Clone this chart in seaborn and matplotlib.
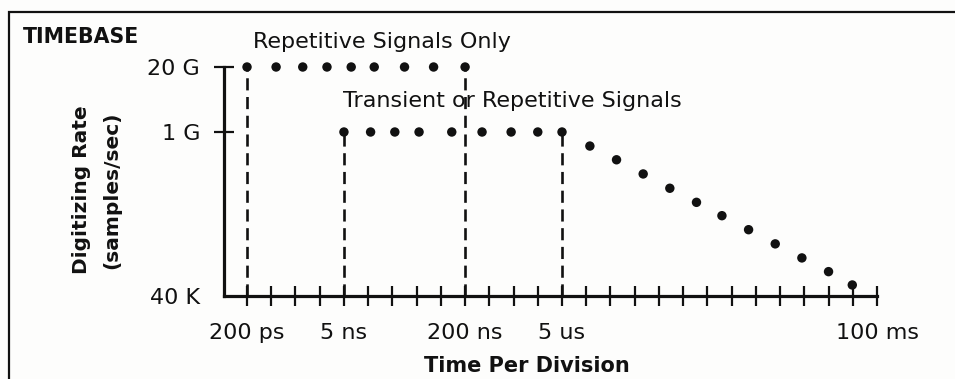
import matplotlib
matplotlib.use("Agg")
import matplotlib.pyplot as plt
import matplotlib.patches as mpatches
import matplotlib.ticker as mticker
import numpy as np
import pandas as pd
import seaborn as sns

# time/div settings (1-2-5 sequence), one axis tick each
time_settings = ["200 ps", "500 ps", "1 ns", "2 ns", "5 ns", "10 ns", "20 ns", "50 ns",
                 "100 ns", "200 ns", "500 ns", "1 us", "2 us", "5 us", "10 us", "20 us",
                 "50 us", "100 us", "200 us", "500 us", "1 ms", "2 ms", "5 ms", "10 ms",
                 "20 ms", "50 ms", "100 ms"]
labeled_settings = ["200 ps", "5 ns", "200 ns", "5 us", "100 ms"]

# digitizing rate axis (samples/sec)
rate_ticks = [4e4, 1e9, 2e10]
rate_labels = ["40 K", "1 G", "20 G"]

# dotted curves, x in time/div steps, y in samples/sec
repetitive_x = [0.0, 1.2, 2.3, 3.3, 4.3, 5.25, 6.5, 7.7, 9.0]
repetitive_y = [2e10] * 9
transient_x = [4.0, 5.1, 6.1, 7.1, 8.45, 9.7, 10.9, 12.0, 13.0]
transient_y = [1e9] * 9
rolloff_x = [14.15, 15.25, 16.35, 17.45, 18.55, 19.6, 20.7, 21.8, 22.9, 24.0, 24.98]
rolloff_y = [4.2e8, 1.8e8, 7.5e7, 3.1e7, 1.3e7, 5.7e6, 2.4e6, 1.0e6, 4.2e5, 1.8e5, 7.9e4]

# dashed boundaries: (time/div, top rate)
boundary_x = [0, 4, 9, 13]
boundary_top = [2e10, 1e9, 2e10, 1e9]

# rate axis is not uniform in the drawing: separate log spacing below and above 1 G
LOGS = [np.log10(4e4), 9.0, np.log10(2e10)]
POS = [0.0, 164.0, 229.0]


def fwd(v):
    v = np.clip(np.asarray(v, dtype=float), 1.0, None)
    return np.interp(np.log10(v), LOGS, POS)


def inv(p):
    return 10 ** np.interp(np.asarray(p, dtype=float), POS, LOGS)


sns.set_theme(style="ticks")
plt.rcParams['font.family'] = ['DejaVu Sans']
ink = "#111111"

fig = plt.figure(figsize=(9.55, 3.79), dpi=100, facecolor="#fdfdfc")
ax = fig.add_axes([224 / 955, 1 - 296 / 379, (877 - 224) / 955, (296 - 67) / 379])
ax.set_facecolor("none")
ax.set_yscale("function", functions=(fwd, inv))

dots = pd.concat([
    pd.DataFrame({"step": repetitive_x, "rate": repetitive_y}),
    pd.DataFrame({"step": transient_x, "rate": transient_y}),
    pd.DataFrame({"step": rolloff_x, "rate": rolloff_y}),
])
sns.scatterplot(data=dots, x="step", y="rate", ax=ax, color=ink, s=46,
                edgecolor="none", clip_on=False, zorder=4)

ax.vlines(boundary_x, [4e4] * len(boundary_x), boundary_top, colors=ink,
          linewidth=1.9, linestyles=(0, (4.6, 2.5)), zorder=3)

ax.set_xlim(-0.95, len(time_settings) - 1)
ax.set_ylim(4e4, 2e10)

ax.set_xticks(range(len(time_settings)))
ax.set_xticklabels([t if t in labeled_settings else "" for t in time_settings])
ax.set_yticks(rate_ticks)
ax.set_yticklabels(rate_labels)
ax.xaxis.set_minor_locator(mticker.NullLocator())
ax.yaxis.set_minor_locator(mticker.NullLocator())
ax.yaxis.get_major_ticks()[0].tick1line.set_visible(False)

ax.tick_params(axis="x", direction="inout", length=14.4, width=1.6, color=ink,
               labelsize=16, labelcolor=ink, pad=12.5)
ax.tick_params(axis="y", direction="inout", length=14.4, width=1.6, color=ink,
               labelsize=16, labelcolor=ink, pad=10)

sns.despine(ax=ax)
for side in ["left", "bottom"]:
    ax.spines[side].set_linewidth(2.3)
    ax.spines[side].set_color(ink)
    ax.spines[side].set_capstyle("projecting")

ax.set_ylabel("")
ax.set_xlabel("Time Per Division", fontsize=15, fontweight="bold", color=ink)
ax.xaxis.set_label_coords(0.464, -0.262)

fig.text(97 / 955, 1 - 190 / 379, "Digitizing Rate\n(samples/sec)", rotation=90,
         ha="center", va="center", multialignment="center", fontsize=14.5,
         fontweight="bold", color=ink, linespacing=1.75)

ax.annotate("Repetitive Signals Only", xy=(0.25, 2e10), xytext=(0, 13.5),
            textcoords="offset points", ha="left", va="baseline", fontsize=16,
            color=ink, annotation_clip=False)
ax.annotate("Transient or Repetitive Signals", xy=(3.95, 1e9), xytext=(0, 18),
            textcoords="offset points", ha="left", va="baseline", fontsize=16,
            color=ink, annotation_clip=False)

fig.text(23 / 955, 1 - 43 / 379, "TIMEBASE", ha="left", va="baseline",
         fontsize=14.8, fontweight="bold", color=ink)

# box frame around the figure (right and bottom edges lie outside the crop)
fig.patches.append(mpatches.Rectangle((9 / 955, -0.2), 1.2, 1.2 - 12 / 379,
                                      transform=fig.transFigure, fill=False,
                                      linewidth=1.6, edgecolor=ink))

fig.savefig("out.png", dpi=100, facecolor=fig.get_facecolor())
